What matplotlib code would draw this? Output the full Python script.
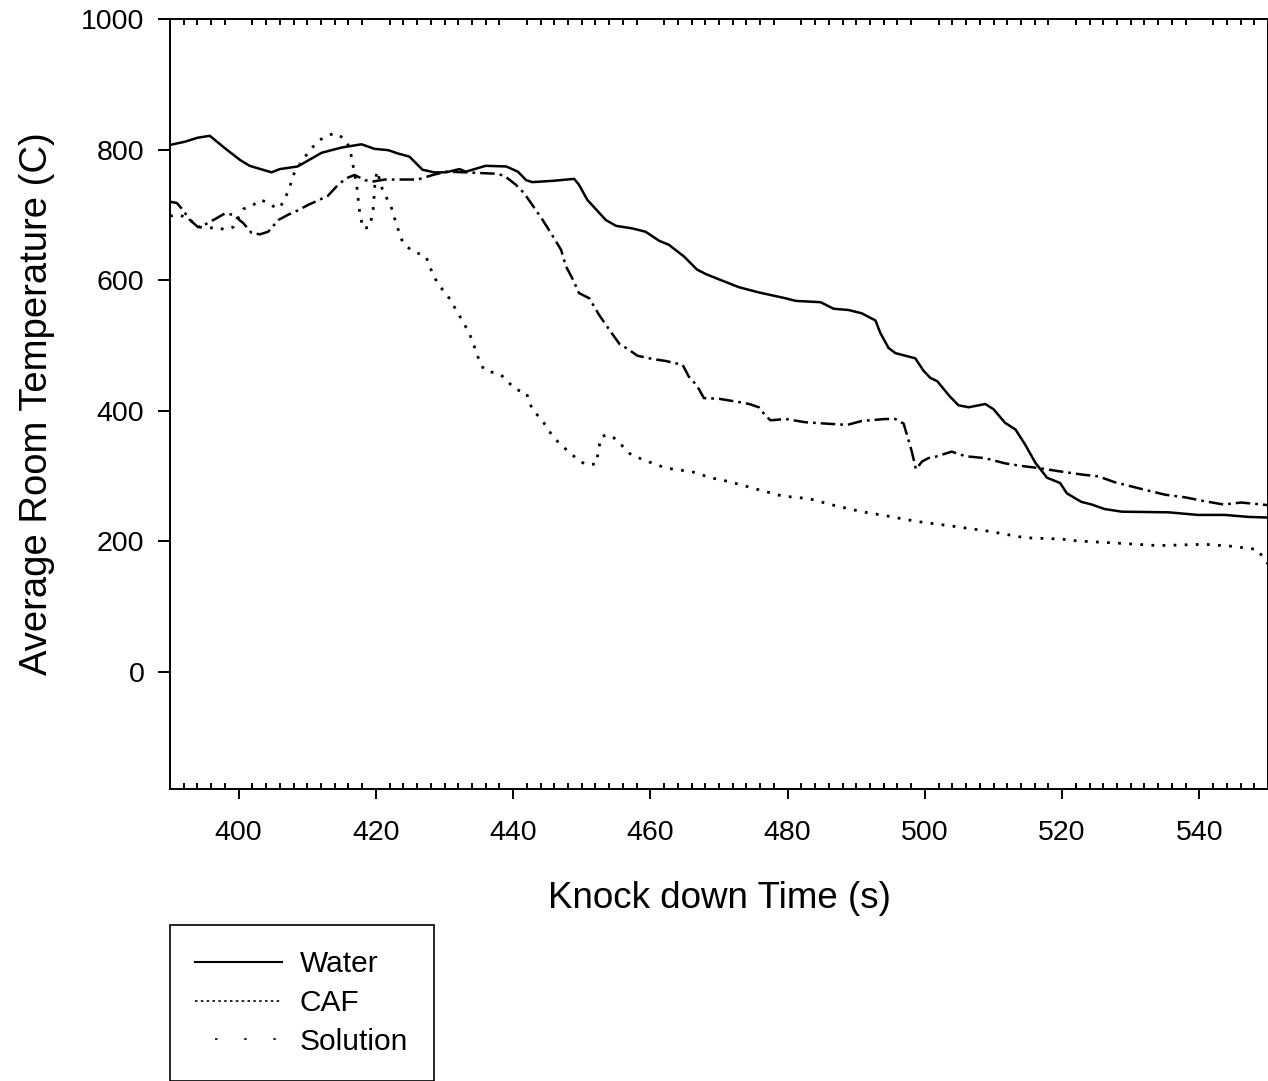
import matplotlib
matplotlib.use("Agg")
import matplotlib.pyplot as plt
from matplotlib.lines import Line2D

plt.rcParams['font.family'] = ['Liberation Sans', 'DejaVu Sans']

# Water (solid)
water_t = [390, 392.2, 394, 395.8, 398, 400.2, 401.6, 404.8, 406, 408.6, 412.1, 415,
           417.9, 419.8, 421.8, 423.2, 424.9, 426.8, 428.5, 430.2, 432.2, 433.1, 436,
           439, 440.7, 441.9, 442.8, 445.8, 448.9, 449.6, 450.8, 453.5, 455, 457.4,
           459.3, 461.3, 462.7, 464.9, 466.8, 468.1, 470, 472.9, 475.8, 479.7, 481.2,
           484.8, 486.7, 488.9, 490.8, 492.8, 493.5, 494.7, 495.7, 498.6, 499.8, 500.8,
           501.8, 503.6, 504.9, 506.4, 508.8, 510, 511.7, 513.2, 514.6, 516.1, 517.8,
           519.7, 520.7, 522.8, 524.3, 526.2, 528.7, 535.5, 539.8, 543.7, 547.1, 550]
water_T = [807, 812, 818, 821, 802, 784, 775, 765, 770, 774, 795, 803,
           808, 801, 799, 794, 789, 769, 765, 765, 770, 766, 775,
           774, 766, 753, 750, 752, 755, 746, 723, 692, 683, 679,
           674, 660, 654, 636, 616, 609, 601, 589, 581, 572, 568,
           566, 556, 554, 549, 538, 519, 496, 488, 480, 461, 450,
           445, 422, 408, 405, 410, 402, 381, 371, 348, 320, 297,
           289, 273, 260, 256, 249, 245, 244, 240, 240, 237, 236]

# CAF (dotted)
caf_t = [390, 391.2, 392.7, 393.9, 395.3, 396.8, 398, 399.2, 400.7, 401.9, 403.1,
         404.5, 405.5, 406.5, 407, 407.5, 407.8, 408.7, 409.4, 410.4, 411.6, 412.8,
         414.1, 415.5, 416.2, 416.7, 417.2, 417.6, 418.1, 419.1, 419.6, 419.9, 420.2,
         420.8, 421.5, 422.2, 423, 423.9, 425.2, 427.3, 428.3, 429, 430.7, 432.2,
         433.6, 434.6, 435.1, 435.8, 438.2, 440.4, 441.9, 442.8, 444.1, 445.8, 447,
         448.2, 449.4, 450.6, 452.1, 452.6, 452.9, 453.7, 454.7, 455.9, 457.2, 459.6,
         462.2, 466.1, 468.8, 471.5, 475.3, 479.2, 483.1, 487, 490.8, 494.7, 498.8,
         503.9, 509.3, 514.6, 519.9, 522.4, 527.7, 534, 540.8, 544.7, 548.5, 549.3, 550]
caf_T = [698, 700, 695, 682, 679, 681, 677, 681, 709, 713, 723,
         718, 709, 718, 731, 744, 758, 774, 785, 799, 813, 821,
         825, 816, 802, 774, 746, 707, 679, 681, 707, 753, 767,
         743, 727, 713, 685, 658, 645, 636, 609, 595, 572, 545,
         519, 491, 475, 462, 455, 432, 428, 401, 387, 360, 347,
         336, 325, 317, 318, 348, 360, 363, 358, 346, 332, 322,
         312, 306, 297, 291, 280, 269, 265, 254, 245, 238, 230,
         223, 215, 205, 203, 200, 197, 193, 195, 192, 187, 174, 165]

# Solution (dash-dot)
sol_t = [390, 391, 391.9, 392.9, 394.1, 395.1, 396.5, 398, 399.2, 400.7, 401.9, 403.1,
         404.3, 405.8, 407.2, 408.7, 410.1, 411.6, 413, 414.5, 415.7, 416.9, 418.4,
         419.6, 421.3, 423.2, 426.1, 428.3, 430.2, 433.1, 435.1, 437.3, 438.7, 440.4,
         441.6, 442.8, 444.3, 445.5, 447, 447.7, 448.7, 449.6, 451.1, 452.5, 454,
         455.5, 456.9, 458.1, 460.3, 462.2, 464.7, 465.6, 466.8, 467.8, 470, 472.9,
         474.4, 475.8, 476.8, 477.5, 479.7, 482.6, 485.5, 488.7, 490.8, 494.2, 495.7,
         496.9, 497.6, 498.1, 498.7, 499.6, 500.5, 501.5, 503.9, 505.9, 508.8, 511.7,
         514.1, 516.5, 519.5, 522.8, 525.3, 527.7, 531.1, 535, 537.9, 540.8, 543.5,
         546.1, 550]
sol_T = [720, 718, 707, 692, 681, 685, 693, 702, 700, 687, 672, 670,
         674, 692, 700, 707, 715, 722, 729, 746, 756, 761, 753,
         751, 754, 754, 754, 761, 766, 765, 764, 763, 760, 746,
         733, 715, 692, 672, 646, 621, 601, 580, 572, 547, 524,
         502, 493, 484, 479, 476, 470, 452, 438, 419, 418, 413,
         410, 405, 392, 385, 387, 382, 380, 378, 384, 387, 387,
         380, 355, 337, 310, 322, 327, 329, 337, 330, 327, 319,
         315, 312, 307, 302, 299, 290, 281, 271, 267, 261, 256,
         259, 255]

fig = plt.figure(figsize=(12.68, 10.81), dpi=100)
ax = fig.add_axes([170 / 1268, 1 - 789 / 1081, 1098 / 1268, 770 / 1081])

lw = 1.8
ax.plot(water_t, water_T, color='black', lw=lw, linestyle='-')
ax.plot(caf_t, caf_T, color='black', lw=2.0, linestyle=(0, (1, 3.0)))
ax.plot(sol_t, sol_T, color='black', lw=lw, linestyle=(0, (5.8, 2.0, 1.1, 2.0)))

ax.set_xlim(390, 550)
ax.set_ylim(-180, 1000)
ax.set_xticks([400, 420, 440, 460, 480, 500, 520, 540])
ax.set_yticks([0, 200, 400, 600, 800, 1000])
# minor ticks every 2 s, skipped at the major positions
minor = [v for v in range(390, 551, 2) if v % 20 != 0]
ax.set_xticks(minor, minor=True)

ax.tick_params(axis='x', which='major', direction='out', length=7.5, width=1.4,
               labelsize=20.5, pad=15, top=False)
ax.tick_params(axis='x', which='minor', direction='in', length=4.5, width=1.4,
               top=True, bottom=True)
ax.tick_params(axis='y', which='major', direction='out', length=8.5, width=1.4,
               labelsize=20.5, pad=10, right=False)
for s in ax.spines.values():
    s.set_linewidth(1.4)

ax.set_xlabel('Knock down Time (s)', fontsize=26.5, labelpad=25)
ax.set_ylabel('Average Room Temperature (C)', fontsize=27.5, labelpad=19)

handles = [
    Line2D([], [], color='black', lw=1.5, linestyle='-'),
    Line2D([], [], color='black', lw=1.2, linestyle=(0, (1.5, 2))),
    Line2D([], [], color='black', lw=1.2, linestyle=(5.5, (1.5, 16))),
]
leg = fig.legend(handles, ['Water', 'CAF', 'Solution'], loc='upper left',
                 bbox_to_anchor=(170 / 1268, 1 - 925 / 1081), borderaxespad=0,
                 fontsize=21.5, fancybox=False, edgecolor='black', framealpha=1,
                 handlelength=2.9, handletextpad=0.6, borderpad=0.85,
                 labelspacing=0.36)
leg.get_frame().set_linewidth(1.2)

fig.savefig('out.png', dpi=100)
